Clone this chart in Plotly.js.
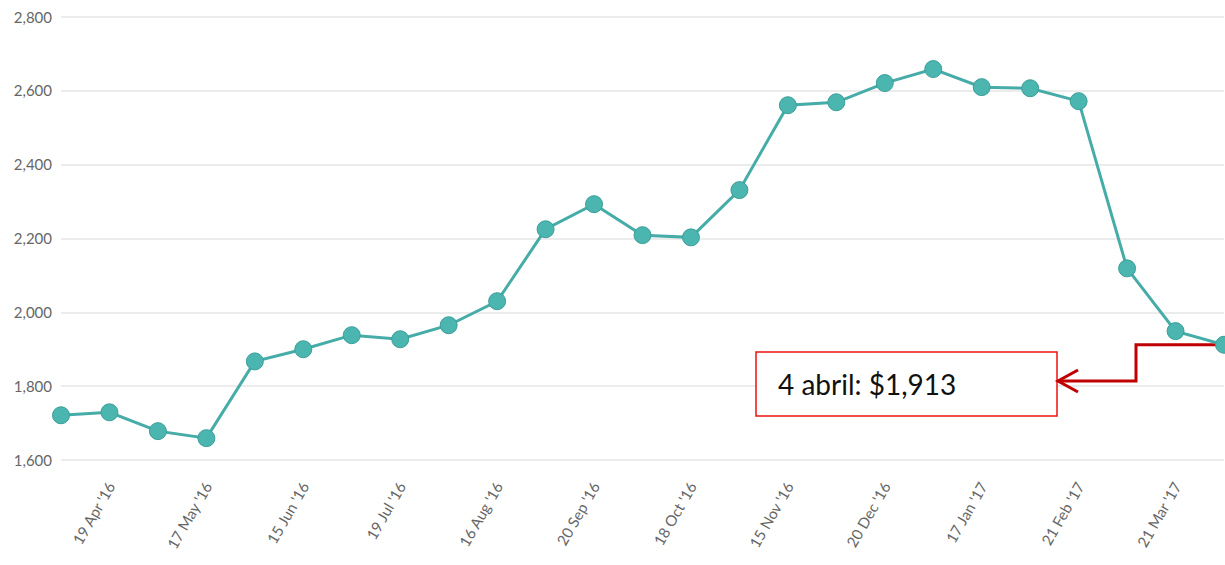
<!DOCTYPE html>
<html>
<head>
<meta charset="utf-8">
<script src="https://cdn.plot.ly/plotly-3.0.1.min.js"></script>
<style>
html,body{margin:0;padding:0;background:#fff;}
#chart{width:1225px;height:565px;}
</style>
</head>
<body>
<div id="chart"></div>
<script>
// ---- data ----
const pointIndex = [0,1,2,3,4,5,6,7,8,9,10,11,12,13,14,15,16,17,18,19,20,21,22,23,24];
const prices = [1722,1730,1679,1660,1868,1901,1939,1928,1966,2031,2226,2294,2210,2204,2332,2562,2570,2622,2660,2611,2608,2573,2120,1950,1913];
const tickPositions = [1,3,5,7,9,11,13,15,17,19,21,23];
const tickLabels = ["19 Apr '16","17 May '16","15 Jun '16","19 Jul '16","16 Aug '16","20 Sep '16","18 Oct '16","15 Nov '16","20 Dec '16","17 Jan '17","21 Feb '17","21 Mar '17"];
const calloutText = "4 abril: $1,913";

// ---- layout helpers (pixel geometry) ----
const L = 61, R = 1, T = 10, B = 101, W = 1225, H = 565;
const plotW = W - L - R, plotH = H - T - B;
const xr = [0, 24], yr = [1590, 2820];
const px2x = p => xr[0] + (p - L) / plotW * (xr[1] - xr[0]);
const px2y = p => yr[1] - (p - T) / plotH * (yr[1] - yr[0]);
const px2paperX = p => (p - L) / plotW;
const px2paperY = p => (H - B - p) / plotH;

const lastX = pointIndex[pointIndex.length - 1];
const lastY = prices[prices.length - 1];
const xa = px2x(1136), ya = px2y(381), xb = px2x(1058);
const armX = px2x(1078), armUp = px2y(370), armDn = px2y(392);

const trace = {
  x: pointIndex, y: prices, type: 'scatter', mode: 'lines+markers',
  line: {color: '#46aca7', width: 3},
  marker: {color: '#4bb5b0', size: 17, line: {color: '#3d9f9a', width: 1}},
  cliponaxis: false, hoverinfo: 'skip'
};

const layout = {
  width: W, height: H,
  margin: {l: L, r: R, t: T, b: B, pad: 0},
  paper_bgcolor: '#fff', plot_bgcolor: '#fff',
  showlegend: false,
  font: {family: 'Lato, sans-serif', color: '#666', size: 15},
  xaxis: {
    range: xr, tickmode: 'array', tickvals: tickPositions, ticktext: tickLabels,
    tickangle: -60, showgrid: false, zeroline: false, showline: false, ticks: '',
    ticklabelstandoff: 10,
    tickfont: {family: 'Lato, sans-serif', size: 15, color: '#666'}
  },
  yaxis: {
    range: yr, tickmode: 'array', tickvals: [1600,1800,2000,2200,2400,2600,2800],
    tickformat: ',d', showgrid: true, gridcolor: '#ececec', gridwidth: 2,
    zeroline: false, showline: false, ticks: '', ticklabelstandoff: 8,
    tickfont: {family: 'Lato, sans-serif', size: 15, color: '#666'}
  },
  shapes: [
    {type: 'rect', xref: 'paper', yref: 'paper',
     x0: px2paperX(756), x1: px2paperX(1057), y0: px2paperY(416), y1: px2paperY(352),
     line: {color: '#ee1111', width: 1.5}, fillcolor: 'rgba(255,255,255,1)', layer: 'above'},
    {type: 'path', xref: 'x', yref: 'y',
     path: `M ${lastX},${lastY} L ${xa},${lastY} L ${xa},${ya} L ${xb},${ya}`,
     line: {color: '#c00000', width: 3}, layer: 'below'},
    {type: 'path', xref: 'x', yref: 'y',
     path: `M ${armX},${armUp} L ${xb},${ya} L ${armX},${armDn}`,
     line: {color: '#c00000', width: 3}, layer: 'above'}
  ],
  annotations: [
    {xref: 'paper', yref: 'paper', x: px2paperX(776), y: px2paperY(384),
     xanchor: 'left', yanchor: 'middle', showarrow: false, text: calloutText,
     font: {family: 'Lato, sans-serif', size: 28, color: '#111'}}
  ]
};

Plotly.newPlot('chart', [trace], layout, {staticPlot: true, displayModeBar: false});
</script>
</body>
</html>
